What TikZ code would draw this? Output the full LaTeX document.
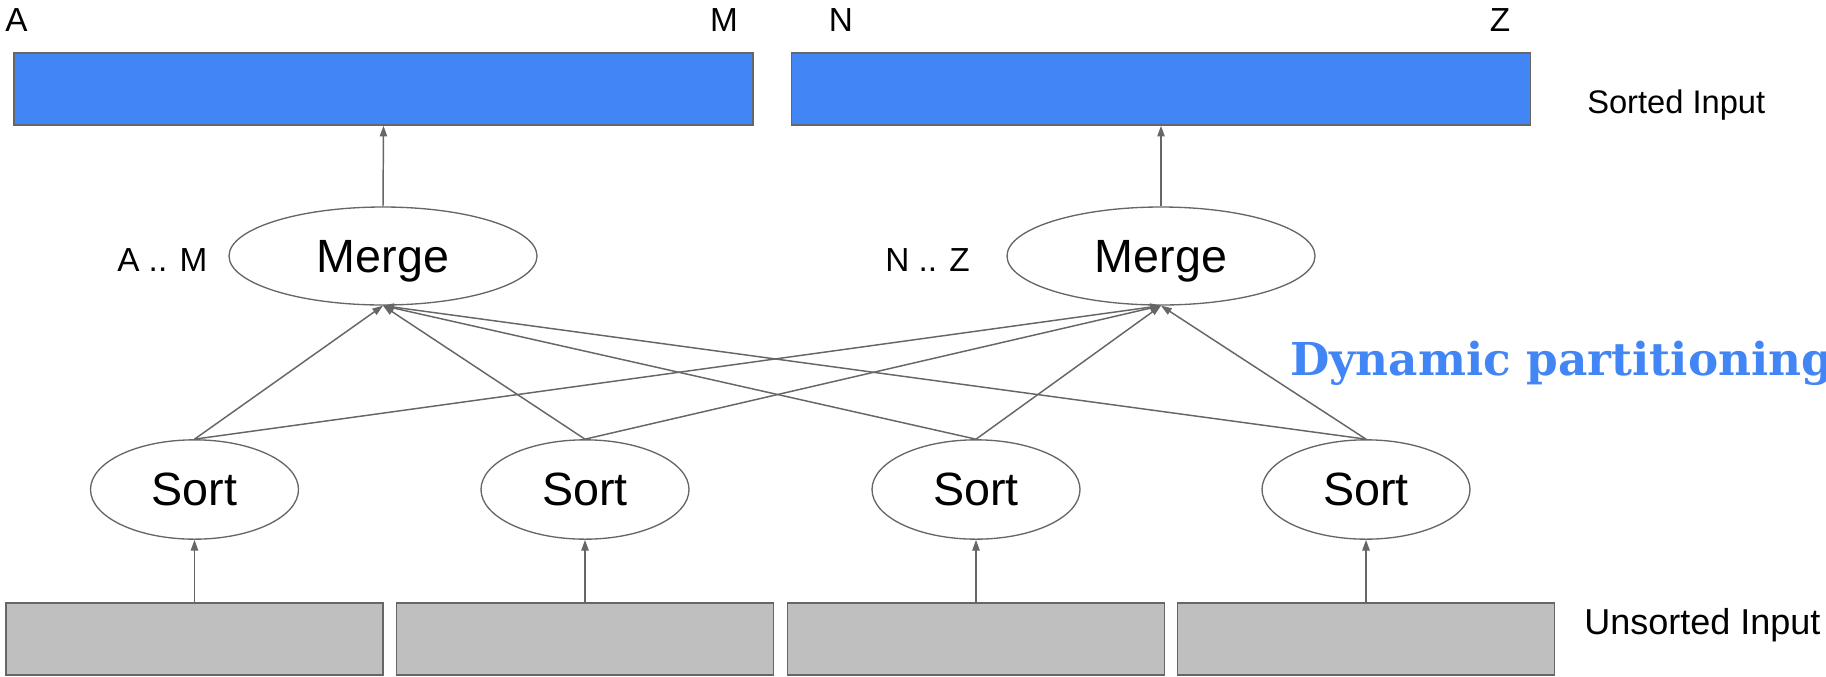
\documentclass[tikz,border=0pt]{standalone}
\usepackage{fontspec}
\setmainfont{Liberation Sans}
\newfontfamily\slabfont{DejaVu Serif}
\usetikzlibrary{shapes.geometric,arrows.meta}
\definecolor{gblue}{HTML}{4285F4}
\definecolor{edgegray}{HTML}{666666}
\definecolor{gfill}{HTML}{BFBFBF}
\begin{document}
\begin{tikzpicture}[x=0.75pt,y=-0.75pt,
  sortedbox/.style={draw=edgegray, line width=1.2pt, fill=gblue, rectangle, minimum width=554.5pt, minimum height=54pt, inner sep=0pt},
  unsortedbox/.style={draw=edgegray, line width=1.2pt, fill=gfill, rectangle, minimum width=282.75pt, minimum height=54pt, inner sep=0pt},
  mergenode/.style={draw=edgegray, line width=1pt, ellipse, minimum width=231pt, minimum height=73.5pt, inner sep=0pt, text depth=0pt, font=\fontsize{35}{40}\selectfont},
  sortnode/.style={draw=edgegray, line width=1pt, ellipse, minimum width=156pt, minimum height=74.5pt, inner sep=0pt, text depth=0pt, font=\fontsize{35}{40}\selectfont},
  lbl/.style={inner sep=0pt, font=\fontsize{25}{30}\selectfont},
  conn/.style={draw=edgegray, line width=1.1pt, -{Triangle[length=8pt,width=5.5pt]}}
]
\useasboundingbox (0,0) rectangle (1826,676);

% sorted output blocks
\node[sortedbox] (outL) at (383.5,89) {};
\node[sortedbox] (outR) at (1161,89) {};

% letters
\node[lbl, anchor=base west] (lA) at (5,31) {A};
\node[lbl, anchor=base] (lM) at (724,31) {M};
\node[lbl, anchor=base] (lN) at (841,31) {N};
\node[lbl, anchor=base] (lZ) at (1500,31) {Z};
\node[lbl, anchor=base west, font=\fontsize{24.5}{30}\selectfont] (lsorted) at (1587,113) {Sorted Input};

% merges
\node[mergenode] (mL) at (383,256) {Merge};
\node[mergenode] (mR) at (1161,256) {Merge};
\node[lbl, anchor=base west] (rL) at (117,271) {A .. M};
\node[lbl, anchor=base west] (rR) at (885,271) {N .. Z};

% dynamic partitioning
\node[inner sep=0pt, anchor=base west, text=gblue, font=\slabfont\bfseries\fontsize{34}{40}\selectfont] (dyn) at (1290,375) {Dynamic partitioning};

% sorts
\node[sortnode] (s1) at (194.5,489.5) {Sort};
\node[sortnode] (s2) at (585,489.5) {Sort};
\node[sortnode] (s3) at (976,489.5) {Sort};
\node[sortnode] (s4) at (1366,489.5) {Sort};

% unsorted input blocks
\node[unsortedbox] (u1) at (194.5,639) {};
\node[unsortedbox] (u2) at (585,639) {};
\node[unsortedbox] (u3) at (976,639) {};
\node[unsortedbox] (u4) at (1366,639) {};
\node[lbl, anchor=base west, font=\fontsize{27}{30}\selectfont] (lunsorted) at (1584,634) {Unsorted Input};

% connectors
\foreach \i in {1,2,3,4} { \draw[conn] (u\i.north) -- (s\i.south); }
\draw[conn] (mL.north) -- (outL.south);
\draw[conn] (mR.north) -- (outR.south);
\foreach \i in {1,2,3,4} {
  \draw[conn] (s\i.north) -- (mL.south);
  \draw[conn] (s\i.north) -- (mR.south);
}
\end{tikzpicture}
\end{document}
